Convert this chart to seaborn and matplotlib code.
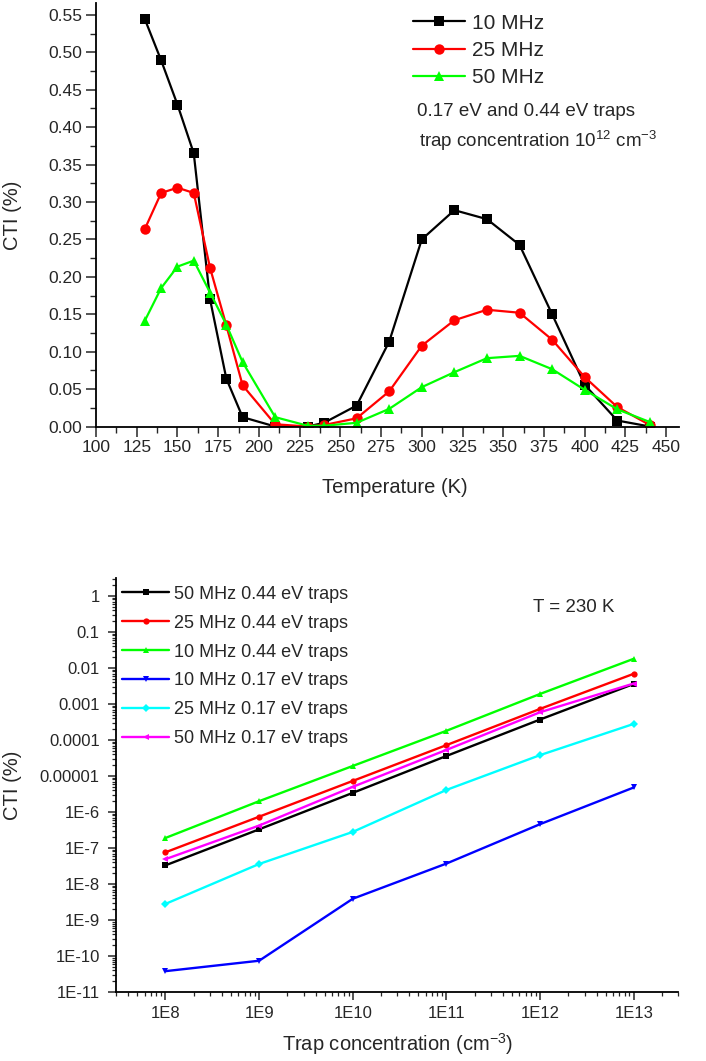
import numpy as np
import pandas as pd
import matplotlib
matplotlib.use("Agg")
import matplotlib.pyplot as plt
import seaborn as sns
from matplotlib import font_manager
from matplotlib.ticker import AutoMinorLocator, FixedLocator, FixedFormatter, LogLocator, NullFormatter

# --- data ---
# top panel: CTI vs temperature
temp_10 = [130, 140, 150, 160, 170, 180, 190, 210, 230, 240, 260, 280, 300, 320, 340, 360, 380, 400, 420, 440]
cti_10 = [0.544, 0.489, 0.430, 0.365, 0.170, 0.064, 0.0125, 0.0, 0.0, 0.005, 0.028, 0.1135, 0.250, 0.289,
          0.277, 0.2426, 0.150, 0.0557, 0.008, 0.0]
temp_25 = [130, 140, 150, 160, 170, 180, 190, 210, 230, 240, 260, 280, 300, 320, 340, 360, 380, 400, 420, 440]
cti_25 = [0.264, 0.312, 0.319, 0.312, 0.212, 0.135, 0.055, 0.003, 0.0, 0.002, 0.011, 0.047, 0.108, 0.142,
          0.156, 0.152, 0.116, 0.066, 0.026, 0.002]
temp_50 = [130, 140, 150, 160, 170, 180, 190, 210, 230, 240, 260, 280, 300, 320, 340, 360, 380, 400, 420, 440]
cti_50 = [0.1415, 0.185, 0.2136, 0.2216, 0.179, 0.136, 0.086, 0.0125, 0.001, 0.001, 0.005, 0.0236, 0.0526,
          0.0726, 0.0913, 0.0944, 0.0766, 0.049, 0.023, 0.006]
freq_labels = ["10 MHz", "25 MHz", "50 MHz"]

# bottom panel: CTI vs trap concentration at 230 K
conc = [1e8, 1e9, 1e10, 1e11, 1e12, 1e13]
cti_50_044 = [3.3e-8, 3.3e-7, 3.4e-6, 3.6e-5, 3.7e-4, 3.6e-3]
cti_25_044 = [7.6e-8, 7.4e-7, 7.3e-6, 7.2e-5, 7.3e-4, 6.9e-3]
cti_10_044 = [1.9e-7, 2.0e-6, 1.9e-5, 1.8e-4, 1.9e-3, 1.8e-2]
cti_10_017 = [3.8e-11, 7.4e-11, 3.9e-9, 3.7e-8, 4.6e-7, 4.8e-6]
cti_25_017 = [2.8e-9, 3.6e-8, 2.8e-7, 4.1e-6, 3.8e-5, 2.8e-4]
cti_50_017 = [4.9e-8, 4.2e-7, 5.0e-6, 5.3e-5, 5.9e-4, 3.7e-3]
trap_labels = ["50 MHz 0.44 eV traps", "25 MHz 0.44 eV traps", "10 MHz 0.44 eV traps",
               "10 MHz 0.17 eV traps", "25 MHz 0.17 eV traps", "50 MHz 0.17 eV traps"]

# --- style ---
sns.set_style("ticks")
plt.rcParams['font.family'] = ['Liberation Sans', 'DejaVu Sans']
plt.rcParams['mathtext.default'] = 'regular'
names = {f.name for f in font_manager.fontManager.ttflist}
narrow = 'Liberation Sans Narrow' in names
leg_font = 'Liberation Sans Narrow' if narrow else 'Liberation Sans'
leg_size = 14 if narrow else 13

fig = plt.figure(figsize=(7.06, 10.61), dpi=100)

# ---------------- top panel ----------------
ax1 = fig.add_axes([0.136, 0.598, 0.826, 0.399])
top_df = pd.concat([
    pd.DataFrame({"T": temp_10, "CTI": cti_10, "freq": freq_labels[0]}),
    pd.DataFrame({"T": temp_25, "CTI": cti_25, "freq": freq_labels[1]}),
    pd.DataFrame({"T": temp_50, "CTI": cti_50, "freq": freq_labels[2]}),
])
pal1 = {"10 MHz": "#000000", "25 MHz": "#ff0000", "50 MHz": "#00ff00"}
mk1 = {"10 MHz": "s", "25 MHz": "o", "50 MHz": "^"}
sns.lineplot(data=top_df, x="T", y="CTI", hue="freq", style="freq", palette=pal1,
             markers=mk1, dashes=False, linewidth=1.6, markersize=7.5,
             markeredgewidth=0, errorbar=None, ax=ax1)
ax1.set_xlim(100, 458)
ax1.set_ylim(0, 0.5655)
ax1.set_xticks(np.arange(100, 451, 25))
ax1.set_yticks(np.arange(0, 0.551, 0.05))
ax1.set_yticklabels([f"{v:.2f}" for v in np.arange(0, 0.551, 0.05)])
ax1.xaxis.set_minor_locator(AutoMinorLocator(2))
ax1.yaxis.set_minor_locator(AutoMinorLocator(2))
ax1.tick_params(which="major", direction="out", length=7, width=1.1, labelsize=12.5, pad=3)
ax1.tick_params(which="minor", direction="out", length=4, width=1.0)
sns.despine(ax=ax1)
for s in ["left", "bottom"]:
    ax1.spines[s].set_linewidth(1.3)
    ax1.spines[s].set_color("black")
ax1.set_xlabel("Temperature (K)", fontsize=14.5)
ax1.set_ylabel("CTI (%)", fontsize=14.5)
ax1.xaxis.set_label_coords(0.513, -0.122)
ax1.yaxis.set_label_coords(-0.127, 0.5)
h, l = ax1.get_legend_handles_labels()
ax1.legend(h, l, loc="upper left", bbox_to_anchor=(0.544, 0.975), frameon=False,
           fontsize=15, handlelength=2.5, handletextpad=0.3, labelspacing=0.4,
           borderpad=0, borderaxespad=0)
fig.text(417 / 706, 1 - 112 / 1061, "0.17 eV and 0.44 eV traps", fontsize=13.5, va="center")
fig.text(419 / 706, 1 - 141 / 1061, "trap concentration 10$^{12}$ cm$^{-3}$", fontsize=13.5, va="center")

# ---------------- bottom panel ----------------
ax2 = fig.add_axes([0.165, 0.065, 0.796, 0.390])
series = [cti_50_044, cti_25_044, cti_10_044, cti_10_017, cti_25_017, cti_50_017]
bot_df = pd.concat([pd.DataFrame({"N": conc, "CTI": v, "set": lab}) for v, lab in zip(series, trap_labels)])
pal2 = dict(zip(trap_labels, ["#000000", "#ff0000", "#00ff00", "#0000ff", "#00ffff", "#ff00ff"]))
mk2 = dict(zip(trap_labels, ["s", "o", "^", "v", "D", "<"]))
sns.lineplot(data=bot_df, x="N", y="CTI", hue="set", style="set", palette=pal2,
             markers=mk2, dashes=False, linewidth=1.7, markersize=4.5,
             markeredgewidth=0, errorbar=None, ax=ax2)
ax2.set_xscale("log")
ax2.set_yscale("log")
ax2.set_xlim(3e7, 3e13)
ax2.set_ylim(1e-11, 3.1)
ax2.xaxis.set_major_locator(FixedLocator(conc))
ax2.xaxis.set_major_formatter(FixedFormatter(["1E8", "1E9", "1E10", "1E11", "1E12", "1E13"]))
ydec = [10.0 ** k for k in range(-11, 1)]
ylabs = ["1E-11", "1E-10", "1E-9", "1E-8", "1E-7", "1E-6", "0.00001", "0.0001", "0.001", "0.01", "0.1", "1"]
ax2.yaxis.set_major_locator(FixedLocator(ydec))
ax2.yaxis.set_major_formatter(FixedFormatter(ylabs))
ax2.xaxis.set_minor_locator(LogLocator(base=10, subs=np.arange(2, 10), numticks=30))
ax2.yaxis.set_minor_locator(LogLocator(base=10, subs=np.arange(2, 10), numticks=30))
ax2.xaxis.set_minor_formatter(NullFormatter())
ax2.yaxis.set_minor_formatter(NullFormatter())
ax2.tick_params(which="major", direction="out", length=6, width=1.1, labelsize=12)
ax2.tick_params(which="minor", direction="out", length=3, width=0.9)
ax2.tick_params(axis="y", which="major", pad=6)
ax2.tick_params(axis="x", which="major", pad=4)
sns.despine(ax=ax2)
for s in ["left", "bottom"]:
    ax2.spines[s].set_linewidth(1.3)
    ax2.spines[s].set_color("black")
ax2.set_xlabel("Trap concentration (cm$^{-3}$)", fontsize=14.5)
ax2.set_ylabel("CTI (%)", fontsize=14.5)
ax2.xaxis.set_label_coords(0.5, -0.095)
ax2.yaxis.set_label_coords(-0.169, 0.5)
h, l = ax2.get_legend_handles_labels()
ax2.legend(h, l, loc="upper left", bbox_to_anchor=(0.01, 0.982), frameon=False,
           prop={"family": leg_font, "size": leg_size}, handlelength=2.6, handletextpad=0.3,
           labelspacing=0.66, borderpad=0, borderaxespad=0)
fig.text(533 / 706, 1 - 607 / 1061, "T = 230 K", fontsize=13.5, va="center")

fig.savefig("out.png", dpi=100)
